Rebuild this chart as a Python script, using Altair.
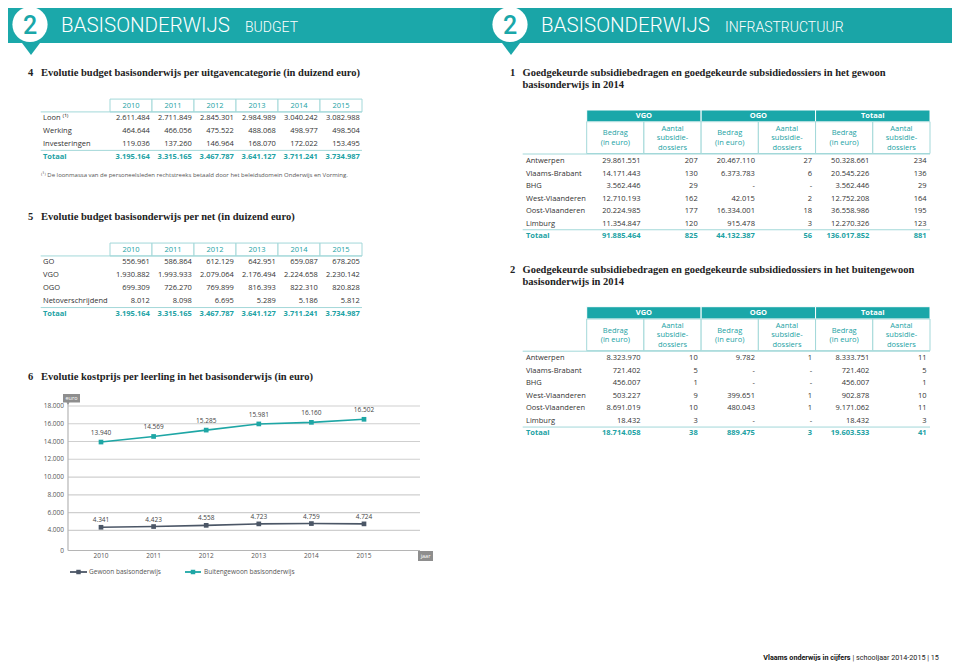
import altair as alt
import pandas as pd

TEAL = "#1aa7a9"
TEAL_TXT = "#21a2a4"
TEAL_LIGHT = "#a3d8d9"
DARK = "#333333"
GREY = "#555555"
SANS = "Open Sans"
SERIF = "Liberation Serif"


def P(v):
    return v - 8  # page pixel -> chart pixel (8px page margin)


def fmt(v):
    if v is None:
        return "-"
    return f"{v:,}".replace(",", ".")


# ---------------- data ----------------
years = [2010, 2011, 2012, 2013, 2014, 2015]

t4_labels = ["Loon \u207d\u00b9\u207e", "Werking", "Investeringen"]
t4_loon = [2611484, 2711849, 2845301, 2984989, 3040242, 3082988]
t4_werking = [464644, 466056, 475522, 488068, 498977, 498504]
t4_invest = [119036, 137260, 146964, 168070, 172022, 153495]
t4_totaal = [3195164, 3315165, 3467787, 3641127, 3711241, 3734987]

t5_labels = ["GO", "VGO", "OGO", "Netoverschrijdend"]
t5_go = [556961, 586864, 612129, 642951, 659087, 678205]
t5_vgo = [1930882, 1993933, 2079064, 2176494, 2224658, 2230142]
t5_ogo = [699309, 726270, 769899, 816393, 822310, 820828]
t5_net = [8012, 8098, 6695, 5289, 5186, 5812]
t5_totaal = [3195164, 3315165, 3467787, 3641127, 3711241, 3734987]

cost_gewoon = [4341, 4423, 4558, 4723, 4759, 4724]
cost_buiten = [13940, 14569, 15285, 15981, 16160, 16502]
y_ticks = [0, 4000, 6000, 8000, 10000, 12000, 14000, 16000, 18000]

provinces = ["Antwerpen", "Vlaams-Brabant", "BHG", "West-Vlaanderen", "Oost-Vlaanderen", "Limburg"]
groups = ["VGO", "OGO", "Totaal"]
subheads = [["Bedrag", "(in euro)"], ["Aantal", "subsidie-", "dossiers"]]

g_vgo_bedrag = [29861551, 14171443, 3562446, 12710193, 20224985, 11354847]
g_vgo_aantal = [207, 130, 29, 162, 177, 120]
g_ogo_bedrag = [20467110, 6373783, None, 42015, 16334001, 915478]
g_ogo_aantal = [27, 6, None, 2, 18, 3]
g_tot_bedrag = [50328661, 20545226, 3562446, 12752208, 36558986, 12270326]
g_tot_aantal = [234, 136, 29, 164, 195, 123]
g_totaal = [91885464, 825, 44132387, 56, 136017852, 881]

b_vgo_bedrag = [8323970, 721402, 456007, 503227, 8691019, 18432]
b_vgo_aantal = [10, 5, 1, 9, 10, 3]
b_ogo_bedrag = [9782, None, None, 399651, 480043, None]
b_ogo_aantal = [1, None, None, 1, 1, None]
b_tot_bedrag = [8333751, 721402, 456007, 902878, 9171062, 18432]
b_tot_aantal = [11, 5, 1, 10, 11, 3]
b_totaal = [18714058, 38, 889475, 3, 19603533, 41]

dummy = pd.DataFrame({"d": [0]})
layers = []


def vtext(txt, x, y, size=7.5, color=DARK, font=SANS, align="left", baseline="middle", weight="normal"):
    return alt.Chart(dummy).mark_text(
        text=txt, align=align, baseline=baseline, fontSize=size, font=font,
        color=color, fontWeight=weight
    ).encode(x=alt.value(P(x)), y=alt.value(P(y)))


def hline(x1, x2, y, color=TEAL_LIGHT, width=1.0):
    return alt.Chart(dummy).mark_rule(color=color, strokeWidth=width).encode(
        x=alt.value(P(x1)), x2=alt.value(P(x2)), y=alt.value(P(y)))


def box(x1, x2, y1, y2, fill, stroke=None, sw=0):
    kw = dict(fill=fill, strokeWidth=sw)
    if stroke:
        kw["stroke"] = stroke
    return alt.Chart(dummy).mark_rect(**kw).encode(
        x=alt.value(P(x1)), x2=alt.value(P(x2)), y=alt.value(P(y1)), y2=alt.value(P(y2)))


def symbol(x, y, shape, size, color):
    return alt.Chart(dummy).mark_point(shape=shape, size=size, filled=True, color=color, opacity=1).encode(
        x=alt.value(P(x)), y=alt.value(P(y)))


# ---------------- banner ----------------
layers.append(box(0, 480, 0, 43, "#1ba8aa"))
layers.append(box(480, 952, 0, 43, "#1aa5a7"))
TRI = "M-1,-0.67L1,-0.67L0,0.67Z"
for cx, main, sub, subx in [(30, 61, "BUDGET", 245), (510, 541, "INFRASTRUCTUUR", 725)]:
    layers.append(symbol(cx + 1, 49, TRI, 324, TEAL))
    layers.append(symbol(cx, 24.5, "circle", 1240, "white"))
    layers.append(vtext("2", cx, 25.5, size=25, color=TEAL, font="Roboto", align="center", weight=500))
    layers.append(vtext("BASISONDERWIJS", main, 31.5, size=20.5, color="white", font="Roboto",
                        baseline="alphabetic", weight=300))
    layers.append(vtext(sub, subx, 31.5, size=14, color="white", font="Roboto",
                        baseline="alphabetic", weight=300))


# ---------------- section titles ----------------
def title(num, lines, xn, xt, y0, dy=12):
    out = [vtext(num, xn, y0, size=10.5, color="#222", font=SERIF, weight="bold")]
    for i, ln in enumerate(lines):
        out.append(vtext(ln, xt, y0 + i * dy, size=10.5, color="#222", font=SERIF, weight="bold"))
    return out


layers += title("4", ["Evolutie budget basisonderwijs per uitgavencategorie (in duizend euro)"], 28, 41, 73)
layers += title("5", ["Evolutie budget basisonderwijs per net (in duizend euro)"], 28, 41, 217)
layers += title("6", ["Evolutie kostprijs per leerling in het basisonderwijs (in euro)"], 28, 41, 377)
layers += title("1", ["Goedgekeurde subsidiebedragen en goedgekeurde subsidiedossiers in het gewoon",
                      "basisonderwijs in 2014"], 510, 522.5, 73)
layers += title("2", ["Goedgekeurde subsidiebedragen en goedgekeurde subsidiedossiers in het buitengewoon",
                      "basisonderwijs in 2014"], 510, 522.5, 270)


# ---------------- left tables ----------------
def left_table(labels, series, totals, y_head, y_tot):
    n = len(labels) + 1
    xs = alt.Scale(domain=[0, 6], range=[P(110), P(362)], nice=False, zero=False)
    ys = alt.Scale(domain=[0, n], range=[P(y_head), P(y_tot)], nice=False, zero=False)
    out = []
    head = pd.DataFrame({
        "c0": list(range(6)), "c1": [i + 1 for i in range(6)], "cm": [i + 0.5 for i in range(6)],
        "r0": [-0.5] * 6, "r1": [0.5] * 6, "r": [0] * 6, "t": [str(y) for y in years]})
    out.append(alt.Chart(head).mark_rect(fill="white", stroke=TEAL_LIGHT, strokeWidth=1).encode(
        x=alt.X("c0:Q", scale=xs, axis=None), x2="c1:Q",
        y=alt.Y("r0:Q", scale=ys, axis=None), y2="r1:Q"))
    out.append(alt.Chart(head).mark_text(fontSize=7.5, font=SANS, color=TEAL_TXT, baseline="middle").encode(
        x=alt.X("cm:Q", scale=xs, axis=None), y=alt.Y("r:Q", scale=ys, axis=None), text="t:N"))
    rows = []
    for ri, (lab, vals) in enumerate(zip(labels, series)):
        for ci, v in enumerate(vals):
            rows.append({"r": ri + 1, "xr": ci + 0.95, "t": fmt(v)})
    body = pd.DataFrame(rows)
    out.append(alt.Chart(body).mark_text(fontSize=7.5, font=SANS, color=DARK, align="right", baseline="middle").encode(
        x=alt.X("xr:Q", scale=xs, axis=None), y=alt.Y("r:Q", scale=ys, axis=None), text="t:N"))
    tot = pd.DataFrame({"r": [n] * 6, "xr": [i + 0.95 for i in range(6)], "t": [fmt(v) for v in totals]})
    out.append(alt.Chart(tot).mark_text(fontSize=7.5, font=SANS, color=TEAL_TXT, align="right",
                                        baseline="middle", fontWeight="bold").encode(
        x=alt.X("xr:Q", scale=xs, axis=None), y=alt.Y("r:Q", scale=ys, axis=None), text="t:N"))
    labs = pd.DataFrame({"r": list(range(1, n)), "t": labels})
    out.append(alt.Chart(labs).mark_text(fontSize=7.5, font=SANS, color=DARK, align="left", baseline="middle").encode(
        x=alt.value(P(43)), y=alt.Y("r:Q", scale=ys, axis=None), text="t:N"))
    out.append(alt.Chart(pd.DataFrame({"r": [n], "t": ["Totaal"]})).mark_text(
        fontSize=7.5, font=SANS, color=TEAL_TXT, align="left", baseline="middle", fontWeight="bold").encode(
        x=alt.value(P(43)), y=alt.Y("r:Q", scale=ys, axis=None), text="t:N"))
    lines = pd.DataFrame({"r": [0.5, n - 0.5]})
    out.append(alt.Chart(lines).mark_rule(color=TEAL_LIGHT, strokeWidth=1).encode(
        x=alt.value(P(40.7)), x2=alt.value(P(362)), y=alt.Y("r:Q", scale=ys, axis=None)))
    return out


layers += left_table(t4_labels, [t4_loon, t4_werking, t4_invest], t4_totaal, 105.5, 156.8)
layers.append(vtext("\u207d\u00b9\u207e De loonmassa van de personeelsleden rechtstreeks betaald door het "
                    "beleidsdomein Onderwijs en Vorming.", 41, 175, size=6, color=GREY))
layers += left_table(t5_labels, [t5_go, t5_vgo, t5_ogo, t5_net], t5_totaal, 249.5, 314)


# ---------------- right tables ----------------
def right_table(cols, totals, y_band0, y_band1, y_sub1, y_row0, y_tot):
    xs = alt.Scale(domain=[0, 6], range=[P(586.7), P(930)], nice=False, zero=False)
    ys = alt.Scale(domain=[0, 6], range=[P(y_row0), P(y_tot)], nice=False, zero=False)
    ymid = (y_band1 + y_sub1) / 2 + 0.5
    lh = 9.6
    ls = alt.Scale(domain=[-1, 1], range=[P(ymid - lh), P(ymid + lh)], nice=False, zero=False)
    out = []
    band = pd.DataFrame({"c0": [0, 2, 4], "c1": [2, 4, 6], "cm": [1, 3, 5], "t": groups})
    out.append(alt.Chart(band).mark_rect(fill=TEAL, stroke="white", strokeWidth=1).encode(
        x=alt.X("c0:Q", scale=xs, axis=None), x2="c1:Q",
        y=alt.value(P(y_band0)), y2=alt.value(P(y_band1))))
    out.append(alt.Chart(band).mark_text(fontSize=7.5, font=SANS, color="white", fontWeight="bold",
                                         baseline="middle").encode(
        x=alt.X("cm:Q", scale=xs, axis=None), y=alt.value(P((y_band0 + y_band1) / 2)), text="t:N"))
    sub = pd.DataFrame({"c0": list(range(6)), "c1": [i + 1 for i in range(6)]})
    out.append(alt.Chart(sub).mark_rect(fill="white", stroke=TEAL_LIGHT, strokeWidth=1).encode(
        x=alt.X("c0:Q", scale=xs, axis=None), x2="c1:Q",
        y=alt.value(P(y_band1)), y2=alt.value(P(y_sub1))))
    srows = []
    for ci in range(6):
        lines_ = subheads[ci % 2]
        k = len(lines_)
        for li, ln in enumerate(lines_):
            srows.append({"cm": ci + 0.5, "ly": li - (k - 1) / 2, "t": ln})
    out.append(alt.Chart(pd.DataFrame(srows)).mark_text(fontSize=7.5, font=SANS, color=TEAL_TXT,
                                                        baseline="middle").encode(
        x=alt.X("cm:Q", scale=xs, axis=None), y=alt.Y("ly:Q", scale=ls, axis=None), text="t:N"))
    rows = []
    for ci, col in enumerate(cols):
        for ri, v in enumerate(col):
            rows.append({"r": ri, "xr": ci + 0.94, "t": fmt(v)})
    out.append(alt.Chart(pd.DataFrame(rows)).mark_text(fontSize=7.5, font=SANS, color=DARK, align="right",
                                                       baseline="middle").encode(
        x=alt.X("xr:Q", scale=xs, axis=None), y=alt.Y("r:Q", scale=ys, axis=None), text="t:N"))
    tot = pd.DataFrame({"r": [6] * 6, "xr": [i + 0.94 for i in range(6)], "t": [fmt(v) for v in totals]})
    out.append(alt.Chart(tot).mark_text(fontSize=7.5, font=SANS, color=TEAL_TXT, align="right",
                                        baseline="middle", fontWeight="bold").encode(
        x=alt.X("xr:Q", scale=xs, axis=None), y=alt.Y("r:Q", scale=ys, axis=None), text="t:N"))
    labs = pd.DataFrame({"r": list(range(6)), "t": provinces})
    out.append(alt.Chart(labs).mark_text(fontSize=7.5, font=SANS, color=DARK, align="left", baseline="middle").encode(
        x=alt.value(P(526)), y=alt.Y("r:Q", scale=ys, axis=None), text="t:N"))
    out.append(alt.Chart(pd.DataFrame({"r": [6], "t": ["Totaal"]})).mark_text(
        fontSize=7.5, font=SANS, color=TEAL_TXT, align="left", baseline="middle", fontWeight="bold").encode(
        x=alt.value(P(526)), y=alt.Y("r:Q", scale=ys, axis=None), text="t:N"))
    lines = pd.DataFrame({"r": [5.5]})
    out.append(alt.Chart(lines).mark_rule(color=TEAL_LIGHT, strokeWidth=1).encode(
        x=alt.value(P(522.7)), x2=alt.value(P(930)), y=alt.Y("r:Q", scale=ys, axis=None)))
    out.append(hline(522.7, 930, y_sub1 + 0.5))
    return out


layers += right_table([g_vgo_bedrag, g_vgo_aantal, g_ogo_bedrag, g_ogo_aantal, g_tot_bedrag, g_tot_aantal],
                      g_totaal, 110, 121.7, 153.5, 161, 236)
layers += right_table([b_vgo_bedrag, b_vgo_aantal, b_ogo_bedrag, b_ogo_aantal, b_tot_bedrag, b_tot_aantal],
                      b_totaal, 306.7, 319, 350.7, 358.3, 433.3)

# ---------------- chart 6 ----------------
xs6 = alt.Scale(domain=[2010, 2015], range=[P(101), P(364)], nice=False, zero=False)
ys6 = alt.Scale(domain=[0, 4000, 18000], range=[P(550.5), P(530.3), P(406)], nice=False, zero=False)

grid = pd.DataFrame({"v": y_ticks[1:]})
layers.append(alt.Chart(grid).mark_rule(color="#cfcfcf", strokeWidth=1.2).encode(
    x=alt.value(P(68)), x2=alt.value(P(420)), y=alt.Y("v:Q", scale=ys6, axis=None)))
layers.append(alt.Chart(pd.DataFrame({"v": [0]})).mark_rule(color="#b5b5b5", strokeWidth=1.2).encode(
    x=alt.value(P(68)), x2=alt.value(P(420)), y=alt.Y("v:Q", scale=ys6, axis=None)))
layers.append(alt.Chart(dummy).mark_rule(color="#b5b5b5", strokeWidth=1.2).encode(
    x=alt.value(P(68)), y=alt.value(P(401)), y2=alt.value(P(550.5))))
ylab = pd.DataFrame({"v": y_ticks, "t": [fmt(v) for v in y_ticks]})
layers.append(alt.Chart(ylab).mark_text(fontSize=6.5, font=SANS, color=GREY, align="right", baseline="middle").encode(
    x=alt.value(P(64)), y=alt.Y("v:Q", scale=ys6, axis=None), text="t:N"))
xlab = pd.DataFrame({"year": years, "t": [str(y) for y in years]})
layers.append(alt.Chart(xlab).mark_text(fontSize=6.5, font=SANS, color=GREY, baseline="middle").encode(
    x=alt.X("year:Q", scale=xs6, axis=None), y=alt.value(P(556)), text="t:N"))

# axis unit tags
layers.append(box(63, 80, 394, 402.5, "#8e8e8e"))
layers.append(vtext("euro", 71.5, 398.3, size=5.5, color="white", align="center"))
layers.append(symbol(68, 403.5, "triangle-down", 10, "#8e8e8e"))
layers.append(box(418, 433, 551, 561, "#8e8e8e"))
layers.append(vtext("jaar", 425.5, 556, size=5.5, color="white", align="center"))

COL_G = "#4b5666"
COL_B = "#1ea6a5"
for vals, col, dy in [(cost_buiten, COL_B, -9), (cost_gewoon, COL_G, -7)]:
    df = pd.DataFrame({"year": years, "v": vals, "t": [fmt(v) for v in vals]})
    layers.append(alt.Chart(df).mark_line(color=col, strokeWidth=1.6).encode(
        x=alt.X("year:Q", scale=xs6, axis=None), y=alt.Y("v:Q", scale=ys6, axis=None)))
    layers.append(alt.Chart(df).mark_point(shape="square", size=22, filled=True, color=col, opacity=1).encode(
        x=alt.X("year:Q", scale=xs6, axis=None), y=alt.Y("v:Q", scale=ys6, axis=None)))
    layers.append(alt.Chart(df).mark_text(fontSize=6.5, font=SANS, color="#444", dy=dy, baseline="middle").encode(
        x=alt.X("year:Q", scale=xs6, axis=None), y=alt.Y("v:Q", scale=ys6, axis=None), text="t:N"))

# legend
layers.append(hline(70, 87, 572, color=COL_G, width=1.8))
layers.append(symbol(78.5, 572, "square", 20, COL_G))
layers.append(vtext("Gewoon basisonderwijs", 89, 572, size=6.5, color=GREY))
layers.append(hline(185, 201, 572, color=COL_B, width=1.8))
layers.append(symbol(193, 572, "square", 20, COL_B))
layers.append(vtext("Buitengewoon basisonderwijs", 204, 572, size=6.5, color=GREY))

# footer
layers.append(vtext("Vlaams onderwijs in cijfers", 850.5, 659.5, size=7.2, color="#111", font="Roboto",
                    align="right", weight="bold", baseline="alphabetic"))
layers.append(vtext("| schooljaar 2014-2015 | 15", 852.5, 659.5, size=7.2, color="#222", font="Roboto",
                    baseline="alphabetic"))

chart = alt.layer(*layers).resolve_scale(x="independent", y="independent").properties(
    width=944, height=654, padding=0, autosize="none"
).configure_view(stroke=None)

chart.save("out.html", embed_options={"renderer": "svg", "actions": False})
